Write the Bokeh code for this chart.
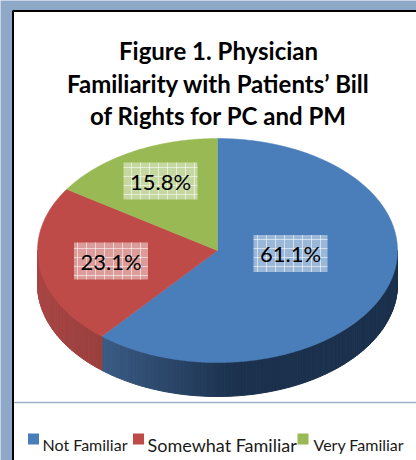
import numpy as np
from bokeh.plotting import figure
from bokeh.models import Range1d
from bokeh.embed import file_html
from bokeh.resources import INLINE
from bokeh.core.properties import value

# ---------------- data ----------------
title_lines = ["Figure 1. Physician",
               "Familiarity with Patients\u2019 Bill",
               "of Rights for PC and PM"]
categories = ["Not Familiar", "Somewhat Familiar", "Very Familiar"]
percents = [61.1, 23.1, 15.8]
label_texts = ["61.1%", "23.1%", "15.8%"]

# ---------------- styles / layout ----------------
top_colors = ["#4A7EBB", "#BE4B48", "#98B954"]
side_light = ["#4A70A0", "#A84644", "#8FAE50"]
side_dark = ["#1B314D", "#7A302E", "#5C7530"]
label_offsets = [(73, 3), (-106.5, 10.5), (-57, -69.5)]  # px from pie centre
legend_square_x = [33, 138, 302.5]
legend_text_x = [42, 147, 313]
legend_font_sizes = ["16px", "18px", "16px"]
bg_color = "#8EA9C8"
W, H = 416, 460
cx, cy, rx, ry, depth = 217, 250, 180, 112, 34

p = figure(width=W, height=H, x_range=Range1d(0, W), y_range=Range1d(H, 0),
           toolbar_location=None, output_backend="svg", min_border=0,
           x_axis_type=None, y_axis_type=None, outline_line_color=None,
           background_fill_color=bg_color, border_fill_color=bg_color)
p.grid.visible = False

# chart panel
p.quad(left=12.5, right=W + 20, top=10.5, bottom=H + 20, fill_color="white",
       line_color="black", line_width=2)
p.line(x=[13.5, W + 5], y=[402, 402], line_color="#9DB3CC", line_width=1.5)

vals = np.array(percents, dtype=float)
fr = vals / vals.sum()
ends = np.cumsum(fr) * 2 * np.pi
starts = ends - fr * 2 * np.pi


def pt(th, dy=0.0):
    return cx + rx * np.sin(th), cy - ry * np.cos(th) + dy


def hex2rgb(h):
    return np.array([int(h[i:i + 2], 16) for i in (1, 3, 5)], dtype=float)


def mix(a, b, t):
    c = hex2rgb(a) * (1 - t) + hex2rgb(b) * t
    return "#%02x%02x%02x" % tuple(int(round(v)) for v in c)


# side wall (front half only)
sx, sy, sc = [], [], []
for i in range(len(vals)):
    a0 = max(starts[i], np.pi / 2)
    a1 = min(ends[i], 3 * np.pi / 2)
    if a1 <= a0:
        continue
    n = max(2, int(np.degrees(a1 - a0)))
    th = np.linspace(a0, a1, n + 1)
    for k in range(n):
        x1, y1 = pt(th[k])
        x2, y2 = pt(th[k + 1])
        sx.append([x1, x2, x2, x1])
        sy.append([y1, y2, y2 + depth, y1 + depth])
        tm = 0.5 * (th[k] + th[k + 1])
        t = float(np.clip((np.sin(tm) + 1) / 1.1, 0, 1))
        sc.append(mix(side_light[i], side_dark[i], t))
p.patches(xs=sx, ys=sy, fill_color=sc, line_color=sc, line_width=1)

# top face
txs, tys = [], []
for i in range(len(vals)):
    th = np.linspace(starts[i], ends[i], 200)
    x, y = pt(th)
    txs.append([cx] + list(x))
    tys.append([cy] + list(y))
p.patches(xs=txs, ys=tys, fill_color=top_colors, line_color=top_colors,
          line_width=0.5)

# data labels
lx = [cx + o[0] for o in label_offsets]
ly = [cy + o[1] for o in label_offsets]
p.rect(x=lx, y=ly, width=74, height=37, fill_color="white", fill_alpha=0.45,
       line_color=None, hatch_pattern="+", hatch_color="white",
       hatch_alpha=0.55, hatch_scale=9, hatch_weight=1)
p.text(x=lx, y=ly, text=label_texts, text_align="center",
       text_baseline="middle", text_font=value("Lato"),
       text_font_size="22px", text_color="black")

# title
p.text(x=[218, 218, 218], y=[50, 83, 115], text=title_lines,
       text_align="center", text_baseline="alphabetic",
       text_font=value("Lato"), text_font_style="bold",
       text_font_size="24px", text_color="black")

# legend (manual, per-item font size as in the original)
p.rect(x=legend_square_x, y=[438.5] * 3, width=11, height=11,
       fill_color=top_colors, line_color=None)
p.text(x=legend_text_x, y=[444] * 3, text=categories, text_align="left",
       text_baseline="alphabetic", text_font=value("Lato"),
       text_font_size=legend_font_sizes, text_color="#1a1a1a")

open("out.html", "w").write(file_html(p, INLINE))
